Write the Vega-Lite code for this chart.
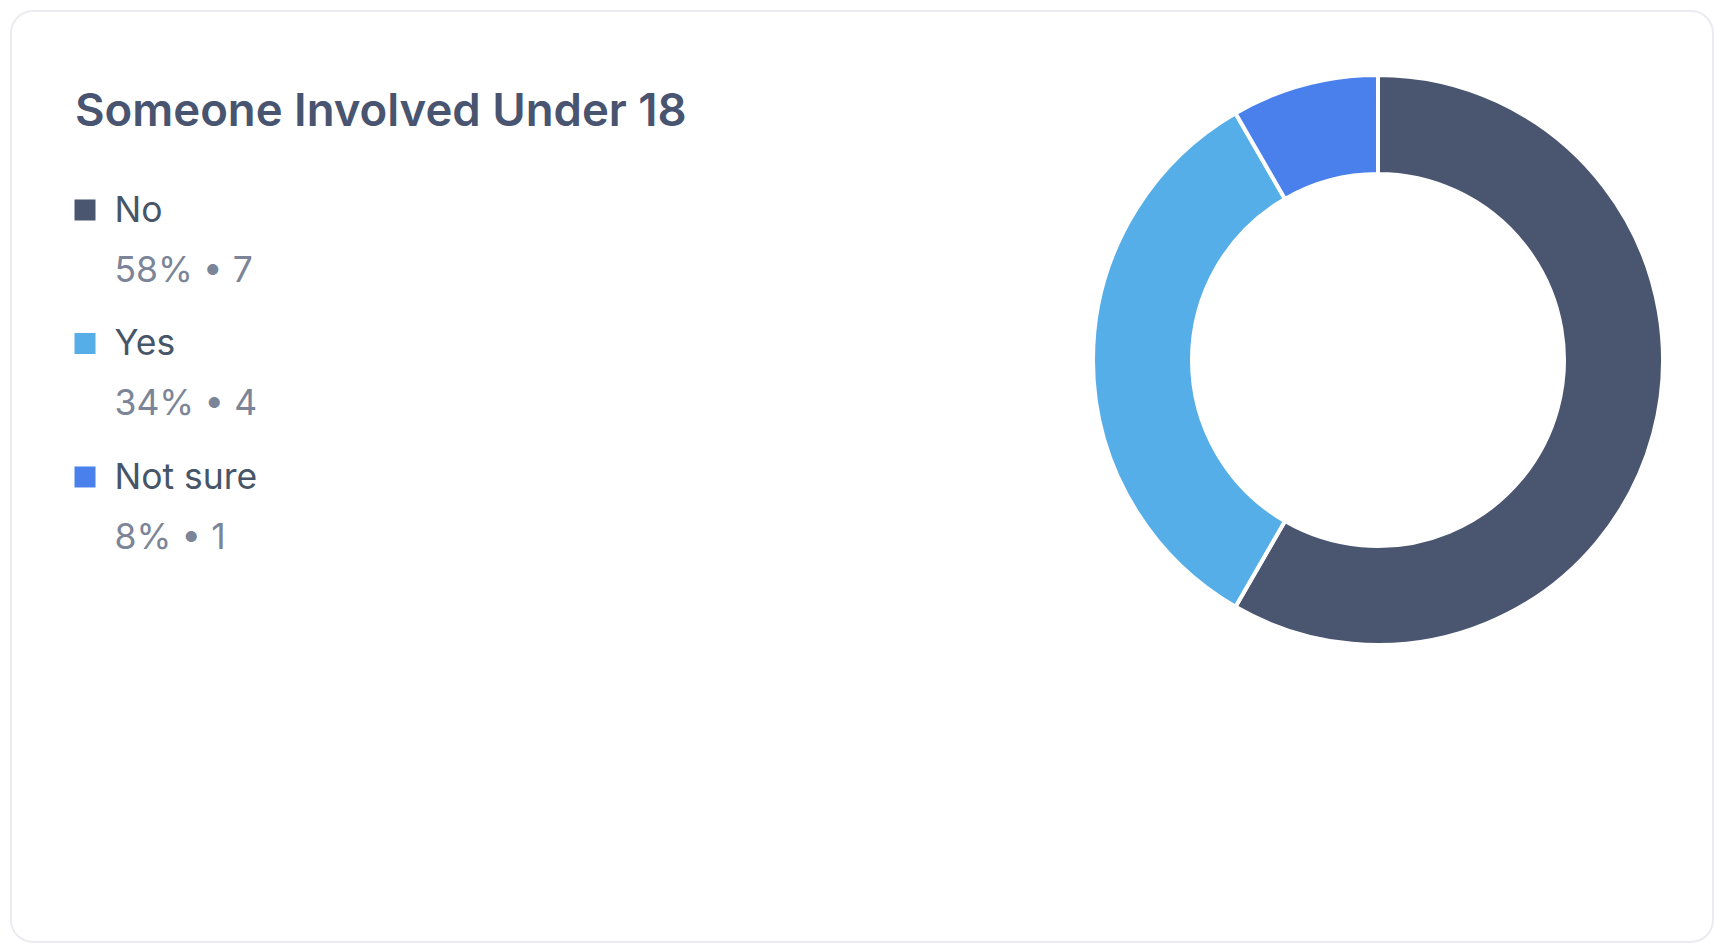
{
  "$schema": "https://vega.github.io/schema/vega-lite/v6.json",
  "autosize": {"type": "fit", "contains": "padding"},
  "width": 1714,
  "height": 943,
  "padding": {"left": 11, "top": 11, "right": 1, "bottom": 1},
  "background": "#ffffff",
  "config": {
    "view": {"stroke": "#ebecf1", "strokeWidth": 2, "cornerRadius": 22, "fill": "#ffffff"},
    "font": "Inter"
  },
  "title": {
    "text": "Someone Involved Under 18",
    "anchor": "start",
    "frame": "group",
    "orient": "top",
    "dx": 64,
    "offset": -160,
    "baseline": "alphabetic",
    "font": "Inter",
    "fontSize": 45.5,
    "fontWeight": 600,
    "color": "#485470"
  },
  "data": {
    "values": [
      {"answer": "No", "count": 7, "percent": 58},
      {"answer": "Yes", "count": 4, "percent": 34},
      {"answer": "Not sure", "count": 1, "percent": 8}
    ]
  },
  "transform": [
    {"window": [{"op": "row_number", "as": "idx"}]},
    {"calculate": "datum.percent + '% • ' + datum.count", "as": "detail"}
  ],
  "layer": [
    {
      "mark": {"type": "arc", "outerRadius": 285, "innerRadius": 186, "stroke": "#ffffff", "strokeWidth": 4},
      "encoding": {
        "theta": {"field": "count", "type": "quantitative", "stack": true},
        "order": {"field": "idx", "type": "quantitative"},
        "color": {"field": "answer", "type": "nominal", "scale": {"domain": ["No", "Yes", "Not sure"], "range": ["#4a5570", "#55aee8", "#4a80eb"]}, "legend": null},
        "x": {"datum": 0.80317, "type": "quantitative", "scale": {"domain": [0, 1], "nice": false, "zero": false}, "axis": null},
        "y": {"datum": 0.37487, "type": "quantitative", "scale": {"domain": [0, 1], "nice": false, "zero": false, "reverse": true}, "axis": null}
      }
    },
    {
      "mark": {"type": "square", "size": 441, "filled": true, "opacity": 1},
      "encoding": {
        "x": {"datum": 0.04348, "type": "quantitative", "scale": {"domain": [0, 1], "nice": false, "zero": false}, "axis": null},
        "y": {"field": "idx", "type": "quantitative", "scale": {"domain": [-0.4906, 6.4834], "nice": false, "zero": false, "reverse": true}, "axis": null},
        "color": {"field": "answer", "type": "nominal", "scale": {"domain": ["No", "Yes", "Not sure"], "range": ["#4a5570", "#55aee8", "#4a80eb"]}, "legend": null}
      }
    },
    {
      "mark": {"type": "text", "align": "left", "baseline": "alphabetic", "dy": 12, "font": "Inter", "fontSize": 35.5, "color": "#475569"},
      "encoding": {
        "x": {"datum": 0.0608, "type": "quantitative", "scale": {"domain": [0, 1], "nice": false, "zero": false}, "axis": null},
        "y": {"field": "idx", "type": "quantitative", "scale": {"domain": [-0.4906, 6.4834], "nice": false, "zero": false, "reverse": true}, "axis": null},
        "text": {"field": "answer"}
      }
    },
    {
      "mark": {"type": "text", "align": "left", "baseline": "alphabetic", "dy": 72, "font": "Inter", "fontSize": 35.5, "color": "#7c8598"},
      "encoding": {
        "x": {"datum": 0.0608, "type": "quantitative", "scale": {"domain": [0, 1], "nice": false, "zero": false}, "axis": null},
        "y": {"field": "idx", "type": "quantitative", "scale": {"domain": [-0.4906, 6.4834], "nice": false, "zero": false, "reverse": true}, "axis": null},
        "text": {"field": "detail"}
      }
    }
  ],
  "resolve": {"scale": {"x": "independent", "y": "independent"}}
}
